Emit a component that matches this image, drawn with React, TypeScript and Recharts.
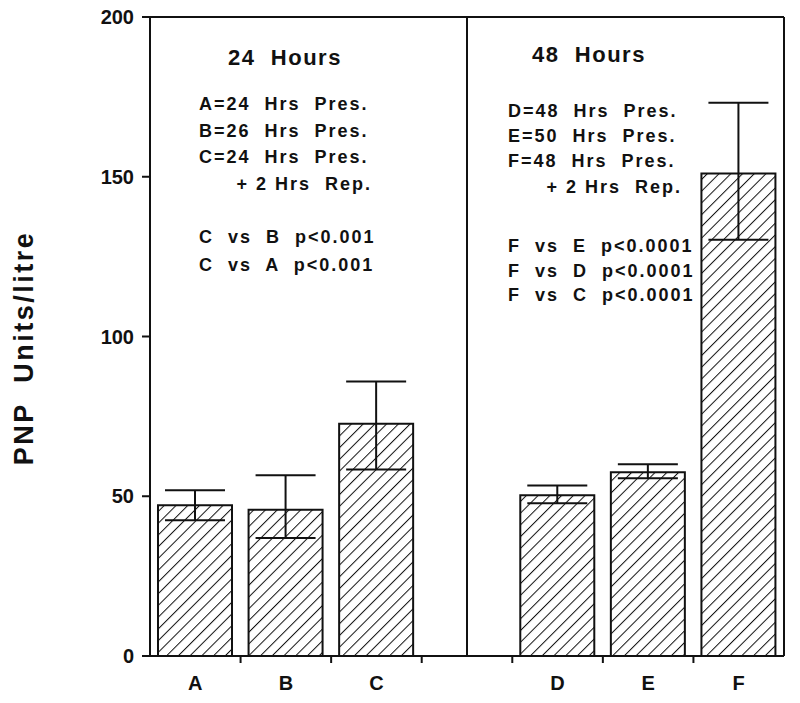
import { BarChart, Bar, XAxis, YAxis, ErrorBar, ReferenceLine } from 'recharts';

// group slot ' ' keeps the gap between the 24 h and 48 h panels
const categories = ['A', 'B', 'C', ' ', 'D', 'E', 'F'];
const means = [47.2, 45.8, 72.7, null, 50.3, 57.5, 151];
const errLow = [4.7, 8.9, 14.3, 0, 2.5, 1.9, 20.7];
const errHigh = [4.7, 10.8, 13.2, 0, 3.1, 2.5, 22.2];
const yTicks = [0, 50, 100, 150, 200];

const leftNotes = ['A=24  Hrs  Pres.', 'B=26  Hrs  Pres.', 'C=24  Hrs  Pres.'];
const leftStats = ['C  vs  B  p<0.001', 'C  vs  A  p<0.001'];
const rightNotes = ['D=48  Hrs  Pres.', 'E=50  Hrs  Pres.', 'F=48  Hrs  Pres.'];
const rightStats = ['F  vs  E  p<0.0001', 'F  vs  D  p<0.0001', 'F  vs  C  p<0.0001'];

const data = categories.map((name, i) => ({
  name,
  value: means[i],
  err: [errLow[i], errHigh[i]],
}));

const font = '"Liberation Sans", Arial, sans-serif';
const ink = '#111';

// category label plus a small tick mark at the right edge of each band
function CatTick(props: any) {
  const { x, y, payload, index, visibleTicksCount } = props;
  const half = payload && typeof payload.offset === 'number' ? payload.offset : 0;
  return (
    <g>
      <text x={x} y={y + 20} dy="0.71em" textAnchor="middle" fontFamily={font} fontWeight={700} fontSize={20} fill={ink}>
        {payload.value}
      </text>
      {index < (visibleTicksCount ?? 7) - 1 && half > 0 && (
        <line x1={x + half} x2={x + half} y1={y - 1} y2={y + 7} stroke={ink} strokeWidth={2} />
      )}
    </g>
  );
}

export default function App() {
  const txt = { fontFamily: font, fontWeight: 700, fill: ink, whiteSpace: 'pre' as const };
  return (
    <div style={{ position: 'absolute', left: 0, top: 0, width: 800, height: 703, background: '#fff' }}>
      <svg width={0} height={0} style={{ position: 'absolute' }}>
        <defs>
          <pattern id="hatch" width={8.3} height={8.3} patternUnits="userSpaceOnUse" patternTransform="rotate(45)">
            <rect width={8.3} height={8.3} fill="#fff" />
            <line x1={0} y1={0} x2={0} y2={8.3} stroke={ink} strokeWidth={2} />
          </pattern>
        </defs>
      </svg>
      <BarChart width={800} height={703} data={data} margin={{ top: 17, right: 16, bottom: 7, left: 0 }}>
        <XAxis
          dataKey="name"
          height={40}
          axisLine={{ stroke: ink, strokeWidth: 2 }}
          tickLine={false}
          tickSize={0}
          tickMargin={0}
          interval={0}
          tick={<CatTick />}
        />
        <YAxis
          width={150}
          domain={[0, 200]}
          ticks={yTicks}
          tickSize={8}
          tickMargin={8}
          axisLine={{ stroke: ink, strokeWidth: 2 }}
          tickLine={{ stroke: ink, strokeWidth: 2 }}
          tick={{ fontFamily: font, fontWeight: 700, fontSize: 20, fill: ink }}
        />
        <ReferenceLine y={200} stroke={ink} strokeWidth={2} />
        <ReferenceLine x=" " stroke={ink} strokeWidth={2} />
        <ReferenceLine x="F" position="end" stroke={ink} strokeWidth={2} />
        <Bar dataKey="value" barSize={74} fill="url(#hatch)" stroke={ink} strokeWidth={2} isAnimationActive={false}>
          <ErrorBar dataKey="err" width={30} stroke={ink} strokeWidth={2} />
        </Bar>
      </BarChart>
      <svg width={800} height={703} style={{ position: 'absolute', left: 0, top: 0, pointerEvents: 'none' }}>
        <text x={24} y={348} transform="rotate(-90 24 348)" textAnchor="middle" dominantBaseline="central" fontSize={27} letterSpacing={2.5} style={txt}>
          PNP  Units/litre
        </text>

        <text x={285} y={65} textAnchor="middle" fontSize={22} letterSpacing={1.5} style={txt}>24  Hours</text>
        {leftNotes.map((s, i) => (
          <text key={s} x={199} y={110 + i * 26.5} fontSize={18} letterSpacing={2} style={txt}>{s}</text>
        ))}
        <text x={372} y={190} textAnchor="end" fontSize={18} letterSpacing={2} style={txt}>+ 2 Hrs  Rep.</text>
        {leftStats.map((s, i) => (
          <text key={s} x={199} y={243 + i * 28} fontSize={18} letterSpacing={2} style={txt}>{s}</text>
        ))}

        <text x={589} y={62} textAnchor="middle" fontSize={22} letterSpacing={1.5} style={txt}>48  Hours</text>
        {rightNotes.map((s, i) => (
          <text key={s} x={508} y={117 + i * 25} fontSize={18} letterSpacing={2} style={txt}>{s}</text>
        ))}
        <text x={682} y={193} textAnchor="end" fontSize={18} letterSpacing={2} style={txt}>+ 2 Hrs  Rep.</text>
        {rightStats.map((s, i) => (
          <text key={s} x={508} y={252 + i * 24.5} fontSize={18} letterSpacing={2} style={txt}>{s}</text>
        ))}
      </svg>
    </div>
  );
}
